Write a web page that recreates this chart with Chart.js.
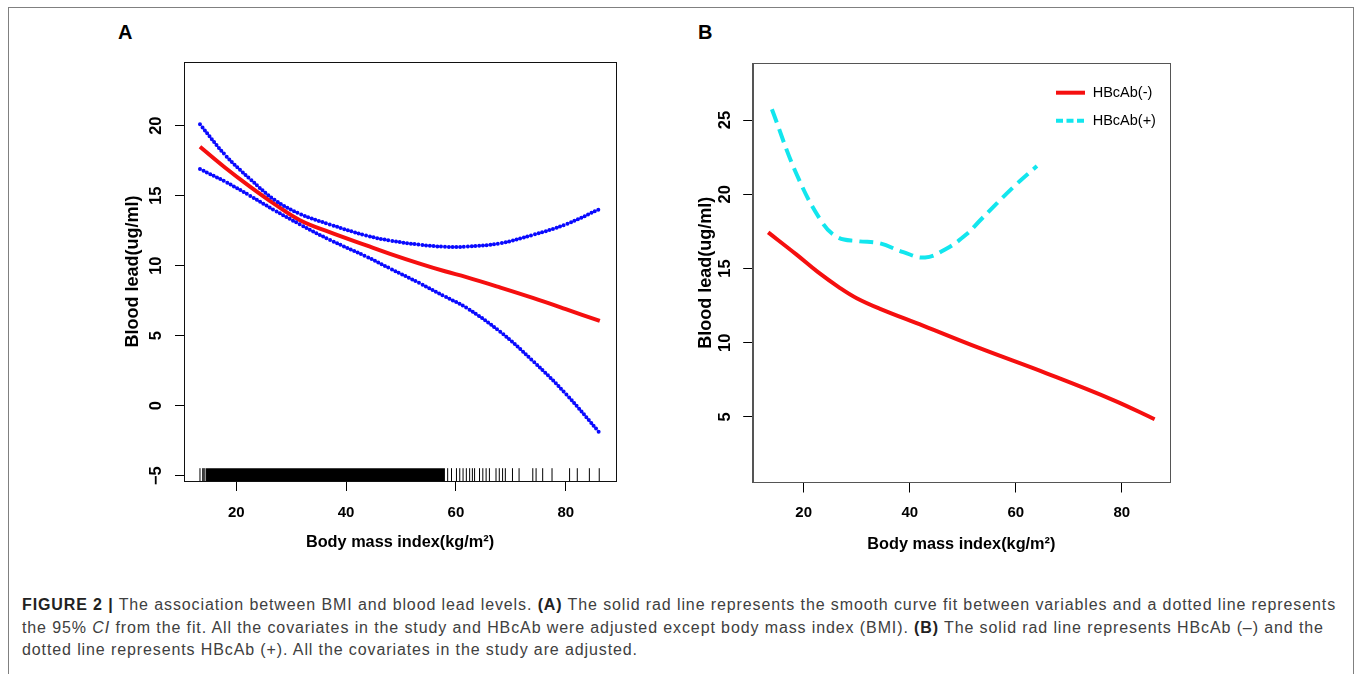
<!DOCTYPE html>
<html><head><meta charset="utf-8">
<script src="https://cdn.jsdelivr.net/npm/chart.js@4.4.0/dist/chart.umd.min.js"></script>
<style>
html,body{margin:0;padding:0;background:#fff;width:1357px;height:674px;overflow:hidden;}
#frame{position:absolute;left:8px;top:7px;width:1346px;height:720px;border:1px solid #808080;box-sizing:border-box;}
.panel{position:absolute;top:40px;width:540px;height:520px;}
#wrapA{left:100px} #wrapB{left:680px}
.letter{position:absolute;top:22px;font:bold 20px/20px "Liberation Sans",Arial,sans-serif;color:#000;}
#caption{position:absolute;left:22px;top:594px;font:16px/22.5px "Liberation Sans",Arial,sans-serif;letter-spacing:0.89px;color:#404040;white-space:nowrap;}
#caption b{color:#222}
</style></head>
<body>
<div id="frame"></div>
<div class="letter" style="left:118px">A</div>
<div class="letter" style="left:698px">B</div>
<div class="panel" id="wrapA"><canvas id="chartA" width="540" height="520"></canvas></div>
<div class="panel" id="wrapB"><canvas id="chartB" width="540" height="520"></canvas></div>
<div id="caption"><b>FIGURE 2 |</b> The association between BMI and blood lead levels. <b>(A)</b> The solid rad line represents the smooth curve fit between variables and a dotted line represents<br>the 95% <i>CI</i> from the fit. All the covariates in the study and HBcAb were adjusted except body mass index (BMI). <b>(B)</b> The solid rad line represents HBcAb (–) and the<br>dotted line represents HBcAb (+). All the covariates in the study are adjusted.</div>
<script>
// ---------- Panel A data ----------
const bmiA   = [13.4, 18, 22.5, 27, 31.6, 37, 43.7, 48, 53.4, 58, 61.9, 68, 74, 80, 86.2];
const fitA   = [18.5, 17.0, 15.65, 14.4, 13.25, 12.4, 11.45, 10.85, 10.15, 9.6, 9.18, 8.45, 7.7, 6.9, 6.05];
const upperA = [20.1, 17.9, 16.2, 14.7, 13.7, 12.95, 12.15, 11.8, 11.5, 11.35, 11.36, 11.6, 12.2, 12.95, 14.05];
const lowerA = [16.9, 16.0, 15.0, 13.95, 12.95, 11.85, 10.65, 9.8, 8.75, 7.8, 7.0, 5.3, 3.2, 0.85, -1.95];
const rugSparseA = [13.4, 13.9, 14.1, 14.3, 58.5, 59.2, 60.1, 60.7, 61.3, 61.9, 62.5, 63.0, 63.4, 64.3, 64.9, 65.5, 66.1, 67.3, 67.9, 68.5, 69.0, 70.3, 71.5, 74.0, 74.6, 75.8, 77.5, 80.7, 82.1, 84.3, 86.1];
const rugDenseA = [14.5, 58.0];
const rugLevelA = -4.93, rugTopA = -4.47;
const xTicks  = [20, 40, 60, 80];
const yTicksA = [-5, 0, 5, 10, 15, 20];
const xRangeA = [10.49, 89.15];
const yRangeA = [-5.38, 24.55];

// ---------- Panel B data ----------
const bmiNeg = [13.3, 18.6, 22.7, 26.8, 30, 34.3, 42.5, 53.2, 65.8, 78.4, 86.2];
const hbcNeg = [17.43, 15.95, 14.75, 13.7, 13.0, 12.3, 11.15, 9.63, 7.94, 6.14, 4.85];
const bmiPos = [14.0, 18.6, 23.3, 26.4, 30.2, 34.3, 38.8, 42.9, 47.0, 50.7, 53.3, 59.6, 64.0];
const hbcPos = [25.72, 21.4, 18.2, 17.1, 16.84, 16.7, 16.1, 15.74, 16.35, 17.3, 18.25, 20.5, 21.9];
const yTicksB = [5, 10, 15, 20, 25];
const xRangeB = [10.38, 89.1];
const yRangeB = [0.62, 28.82];
const seriesNames = ['HBcAb(-)', 'HBcAb(+)'];

const xTitle = 'Body mass index(kg/m²)';
const yTitle = 'Blood lead(ug/ml)';

const FONT = '"Liberation Sans", Arial, Helvetica, sans-serif';
const pts = (xs, ys) => xs.map((x, i) => ({x, y: ys[i]}));

const frameBox = {
  id: 'frameBox',
  afterDraw(chart, args, o) {
    const ctx = chart.ctx, a = chart.chartArea, y = chart.scales.y;
    ctx.save();
    ctx.strokeStyle = o.box; ctx.lineWidth = 1;
    ctx.strokeRect(Math.round(a.left) + 0.5, Math.round(a.top) + 0.5, Math.round(a.right - a.left), Math.round(a.bottom - a.top));
    ctx.font = 'bold ' + o.size + 'px ' + FONT;
    ctx.fillStyle = '#000'; ctx.textAlign = 'center'; ctx.textBaseline = 'middle';
    y.ticks.forEach(t => {
      const py = y.getPixelForValue(t.value);
      ctx.save(); ctx.translate(o.labelX, py); ctx.rotate(-Math.PI / 2);
      ctx.fillText(String(t.value).replace('-', '\u2212'), 0, 0);
      ctx.restore();
    });
    ctx.restore();
  }
};

const legendB = {
  id: 'legendB',
  afterDatasetsDraw(chart, args, o) {
    if (!o.items) return;
    const ctx = chart.ctx, a = chart.chartArea;
    ctx.save();
    o.items.forEach((idx, i) => {
      const ds = chart.data.datasets[idx];
      const y = a.top + o.top + i * o.gap, x0 = a.left + o.left;
      ctx.strokeStyle = ds.borderColor; ctx.lineWidth = ds.borderWidth; ctx.lineCap = 'butt';
      ctx.setLineDash(o.dashes[i]);
      ctx.beginPath(); ctx.moveTo(x0, y); ctx.lineTo(x0 + o.len, y); ctx.stroke();
      ctx.setLineDash([]);
      ctx.fillStyle = '#000'; ctx.font = o.size + 'px ' + FONT;
      ctx.textAlign = 'left'; ctx.textBaseline = 'middle';
      ctx.fillText(ds.label, x0 + o.len + o.textGap, y + 0.5);
    });
    ctx.restore();
  }
};

function scales(o) {
  return {
    x: {
      type: 'linear', min: o.xr[0], max: o.xr[1],
      afterBuildTicks: s => { s.ticks = xTicks.map(v => ({value: v})); },
      afterFit: s => { s.height = o.xh; },
      grid: {display: true, drawOnChartArea: false, drawTicks: true, tickLength: o.xtl, color: '#000', lineWidth: 1},
      border: {display: true, color: o.box, width: 1},
      ticks: {color: '#000', font: {family: FONT, size: 15, weight: 'bold'}, padding: o.xpad, maxRotation: 0, minRotation: 0, autoSkip: false},
      title: {display: true, text: xTitle, color: '#000', font: {family: FONT, size: 16.3, weight: 'bold'}, padding: {top: 0, bottom: o.xtpad}}
    },
    y: {
      type: 'linear', min: o.yr[0], max: o.yr[1],
      afterBuildTicks: s => { s.ticks = o.yt.map(v => ({value: v})); },
      afterFit: s => { s.width = o.yw; },
      grid: {display: true, drawOnChartArea: false, drawTicks: true, tickLength: o.ytl, color: '#000', lineWidth: 1},
      border: {display: true, color: o.box, width: 1},
      ticks: {display: false},
      title: {display: true, text: yTitle, color: '#000', font: {family: FONT, size: 18, weight: 'bold'}, padding: {top: o.ytpad, bottom: 0}}
    }
  };
}

new Chart(document.getElementById('chartA'), {
  type: 'line',
  data: {
    datasets: [
      {label: 'rug dense', data: [{x: rugDenseA[0], y: rugTopA}, {x: rugDenseA[1], y: rugTopA}], fill: 'start', backgroundColor: '#000', borderWidth: 0, pointRadius: 0},
      {label: 'rug', data: rugSparseA.map(x => ({x, y: rugLevelA})), showLine: false, pointStyle: 'line', pointRadius: 6.5, pointRotation: 90, pointBorderWidth: 1, pointBorderColor: '#000', pointBackgroundColor: '#000'},
      {label: 'upper', data: pts(bmiA, upperA), borderColor: '#0a0aff', borderWidth: 4, borderDash: [0, 3.8], borderCapStyle: 'round', pointRadius: 0, tension: 0.4, fill: false},
      {label: 'lower', data: pts(bmiA, lowerA), borderColor: '#0a0aff', borderWidth: 4, borderDash: [0, 3.8], borderCapStyle: 'round', pointRadius: 0, tension: 0.4, fill: false},
      {label: 'fit', data: pts(bmiA, fitA), borderColor: '#f50f0f', borderWidth: 4, pointRadius: 0, tension: 0.4, fill: false}
    ]
  },
  options: {
    responsive: false, animation: false, events: [],
    layout: {padding: {top: 22, right: 24, left: 0, bottom: 0}},
    scales: scales({xr: xRangeA, yr: yRangeA, yt: yTicksA, xh: 79, yw: 84, xtl: 10, ytl: 9, xpad: 12.7, xtpad: 7.7, ytpad: 22, box: '#111'}),
    plugins: {legend: {display: false}, tooltip: {enabled: false}, frameBox: {box: '#111', labelX: 56.7, size: 16.5}, legendB: {}}
  },
  plugins: [frameBox, legendB]
});

new Chart(document.getElementById('chartB'), {
  type: 'line',
  data: {
    datasets: [
      {label: seriesNames[0], data: pts(bmiNeg, hbcNeg), borderColor: '#f50f0f', borderWidth: 4, pointRadius: 0, tension: 0.4, fill: false},
      {label: seriesNames[1], data: pts(bmiPos, hbcPos), borderColor: '#12e6ee', borderWidth: 4, borderDash: [14, 7], pointRadius: 0, tension: 0.4, fill: false}
    ]
  },
  options: {
    responsive: false, animation: false, events: [],
    layout: {padding: {top: 23.3, right: 50, left: 0, bottom: 0}},
    scales: scales({xr: xRangeB, yr: yRangeB, yt: yTicksB, xh: 78, yw: 72.7, xtl: 10.5, ytl: 9.5, xpad: 11.8, xtpad: 5.4, ytpad: 15, box: '#555'}),
    plugins: {legend: {display: false}, tooltip: {enabled: false}, frameBox: {box: '#555', labelX: 45.5, size: 16.5},
      legendB: {items: [0, 1], left: 303.3, top: 29.4, gap: 28, len: 29, textGap: 7.7, size: 14.5, dashes: [[], [7, 3.5]]}}
  },
  plugins: [frameBox, legendB]
});
</script>
</body></html>
